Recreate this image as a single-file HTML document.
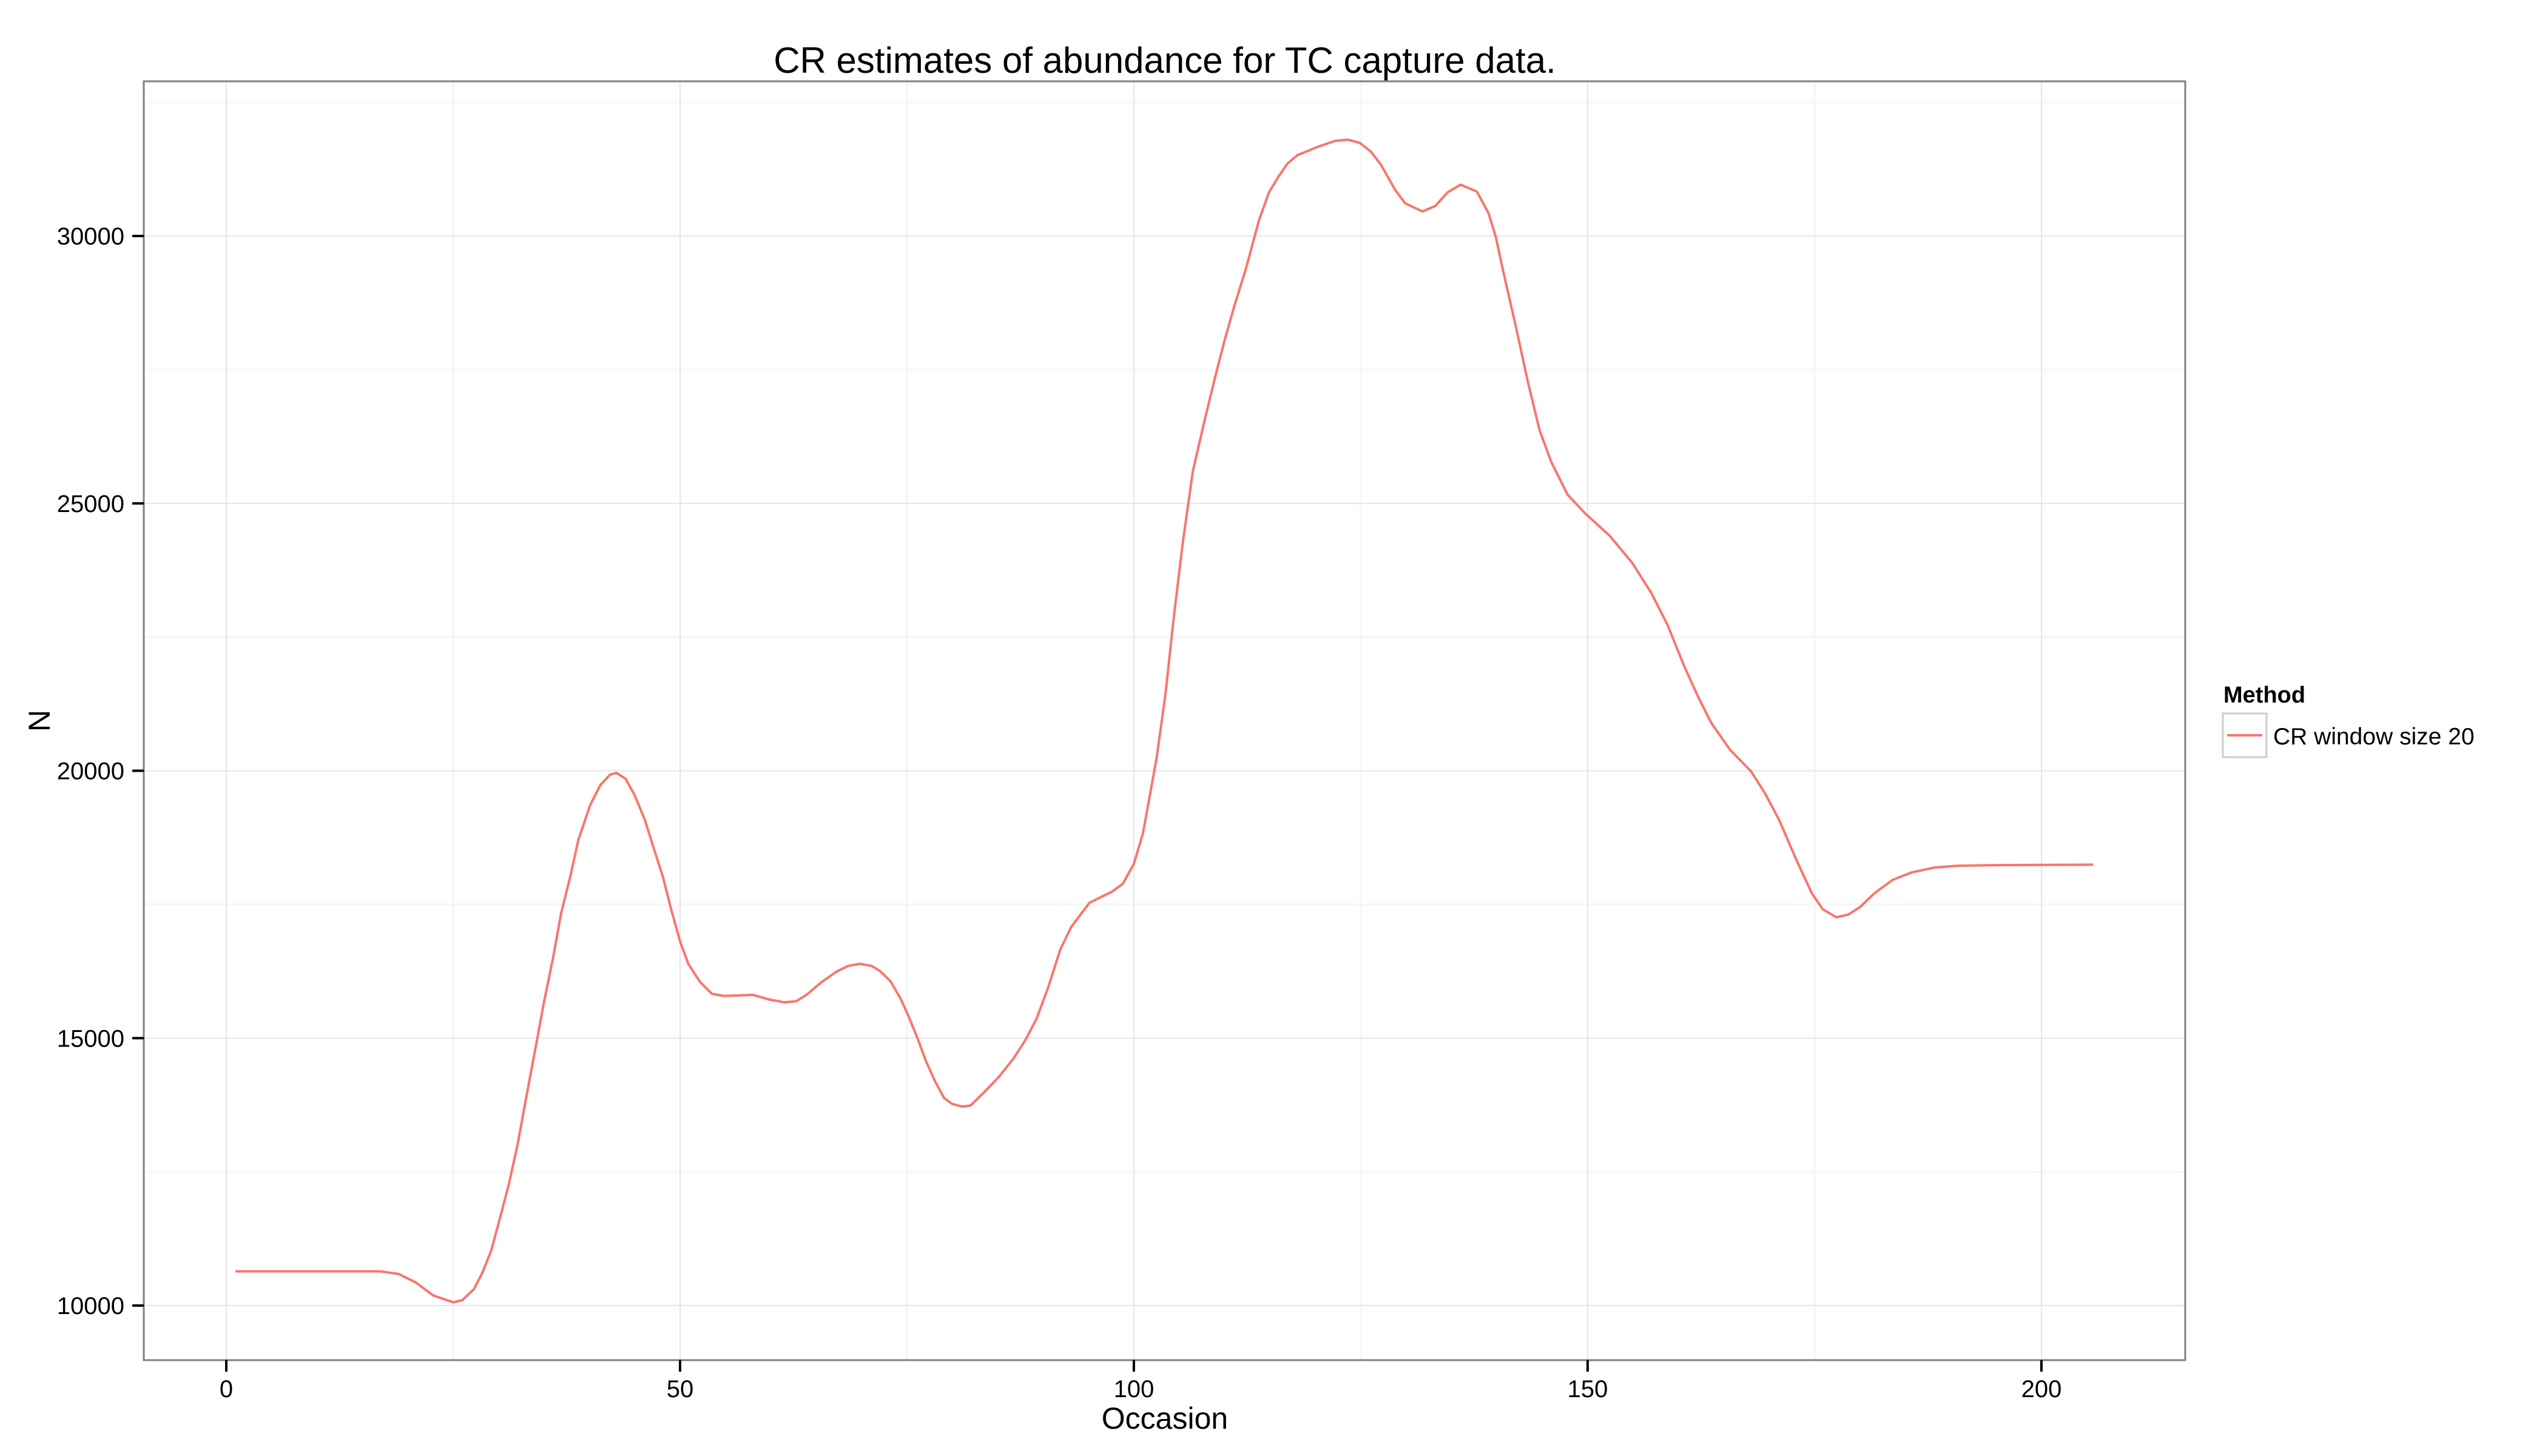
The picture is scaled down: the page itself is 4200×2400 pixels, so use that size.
<!DOCTYPE html>
<html><head><meta charset="utf-8"><style>
html,body{margin:0;padding:0;background:#fff;}
svg{display:block;font-family:"Liberation Sans",Arial,sans-serif;}
</style></head><body>
<svg id="chart" width="4200" height="2400" viewBox="0 0 4200 2400" xmlns="http://www.w3.org/2000/svg">
<rect x="0" y="0" width="4200" height="2400" fill="#fff"/>
<g id="grid"></g>
<g id="series"></g>
<rect x="237" y="134" width="3365" height="2108" fill="none" stroke="#7f7f7f" stroke-width="3"/>
<g id="axes"></g>
<text x="1920" y="120" font-size="60" text-anchor="middle" fill="#000">CR estimates of abundance for TC capture data.</text>
<text x="1920" y="2355" font-size="50" text-anchor="middle" fill="#000">Occasion</text>
<text x="82" y="1188" font-size="50" text-anchor="middle" fill="#000" transform="rotate(-90 82 1188)">N</text>
<g>
<text x="3665" y="1158" font-size="38" font-weight="bold" fill="#000">Method</text>
<rect x="3664" y="1176" width="72" height="72" fill="#fff" stroke="#cccccc" stroke-width="3"/>
<line x1="3671" y1="1212" x2="3729" y2="1212" stroke="#F8766D" stroke-width="4"/>
<text x="3747" y="1227" font-size="39" fill="#000">CR window size 20</text>
</g>
</svg>
<script>
const occasions = [1,17,19,20.9,22.8,25,26,27.3,28.2,29.2,30.1,31.1,32.1,33,34,35,36,36.9,37.9,38.8,40.1,41.2,42.3,43,44,45,46.1,47.1,48.1,49,50,50.9,52.2,53.5,54.8,56.7,58,59.9,61.5,62.8,64,65.6,67.2,68.5,69.8,71.1,72,73.2,74.3,75.2,76.2,77.1,78.1,79.1,80,81.1,82,83.5,85.1,86.7,88,89.3,90.6,91.9,93.1,95.1,97.6,98.8,100,101,101.7,102.5,103.5,104.4,105.4,106.5,107.9,109,110,111.1,112.3,113.8,114.9,115.9,116.9,118,120.3,122.2,123.6,124.9,126.1,127.2,128.8,129.9,131.8,133.2,134.6,136,137.8,139.1,139.9,140.6,142.1,143.4,144.7,146,147.8,149.8,152.4,154.9,157,158.8,160.6,162.1,163.6,165.7,168,169.5,171.1,172.9,174.7,175.9,177.4,178.7,180,181.6,183.6,185.7,188.2,190.8,194.9,205.7];
const abundance = [10640,10640,10590,10430,10190,10060,10100,10310,10610,11030,11600,12250,13010,13850,14750,15670,16500,17340,18020,18710,19360,19730,19930,19960,19850,19540,19090,18550,18020,17420,16810,16390,16050,15830,15790,15800,15810,15720,15670,15690,15820,16050,16240,16350,16390,16350,16260,16060,15740,15400,14980,14570,14190,13880,13770,13720,13740,13990,14270,14610,14950,15370,15970,16660,17080,17530,17740,17890,18260,18830,19480,20230,21460,22870,24280,25600,26630,27390,28050,28710,29360,30300,30820,31100,31350,31510,31670,31780,31800,31740,31580,31340,30860,30610,30460,30560,30820,30960,30830,30420,29970,29410,28300,27280,26370,25770,25160,24800,24400,23890,23330,22730,21970,21410,20900,20390,19990,19590,19080,18370,17710,17410,17260,17310,17450,17710,17960,18100,18190,18225,18235,18245];
const xTicks = [0,50,100,150,200];
const xMinor = [25,75,125,175];
const yTicks = [10000,15000,20000,25000,30000];
const yMinor = [12500,17500,22500,27500,32500];

const NS = "http://www.w3.org/2000/svg";
function sx(v){ return 373 + v*14.96; }
function sy(v){ return 2152 - (v-10000)*0.08815; }
const grid = document.getElementById('grid');
const axes = document.getElementById('axes');
const series = document.getElementById('series');
function mk(tag, attrs, parent){
  const e = document.createElementNS(NS, tag);
  for (const k in attrs) e.setAttribute(k, attrs[k]);
  parent.appendChild(e);
  return e;
}
yMinor.forEach(v=>{
  const l = mk('line',{x1:237,x2:3602,y1:sy(v),y2:sy(v),stroke:'#f7f7f7','stroke-width':4},grid);
  
  
});
xMinor.forEach(v=>{
  const l = mk('line',{x1:sx(v),x2:sx(v),y1:134,y2:2242,stroke:'#f7f7f7','stroke-width':4},grid);
  
  
});
yTicks.forEach(v=>{
  const l = mk('line',{x1:237,x2:3602,y1:sy(v),y2:sy(v),stroke:'#e5e5e5','stroke-width':2},grid);
  
  
  const t = mk('line',{x1:218,x2:237,y1:sy(v),y2:sy(v),stroke:'#000','stroke-width':4},axes);
  
  
  const tx = mk('text',{x:205,y:sy(v)+14,'font-size':40,'text-anchor':'end',fill:'#000'},axes);
  tx.textContent = v;
  
  
});
xTicks.forEach(v=>{
  const l = mk('line',{x1:sx(v),x2:sx(v),y1:134,y2:2242,stroke:'#e5e5e5','stroke-width':2},grid);
  
  
  const t = mk('line',{x1:sx(v),x2:sx(v),y1:2242,y2:2261,stroke:'#000','stroke-width':4},axes);
  
  
  const tx = mk('text',{x:sx(v),y:2303,'font-size':40,'text-anchor':'middle',fill:'#000'},axes);
  tx.textContent = v;
  
  
});
const pts = occasions.map((o,i)=>sx(o).toFixed(1)+','+sy(abundance[i]).toFixed(1)).join(' ');
const pl = mk('polyline',{points:pts,fill:'none',stroke:'#F8766D','stroke-width':4,'stroke-linejoin':'round'},series);


</script>
</body></html>
